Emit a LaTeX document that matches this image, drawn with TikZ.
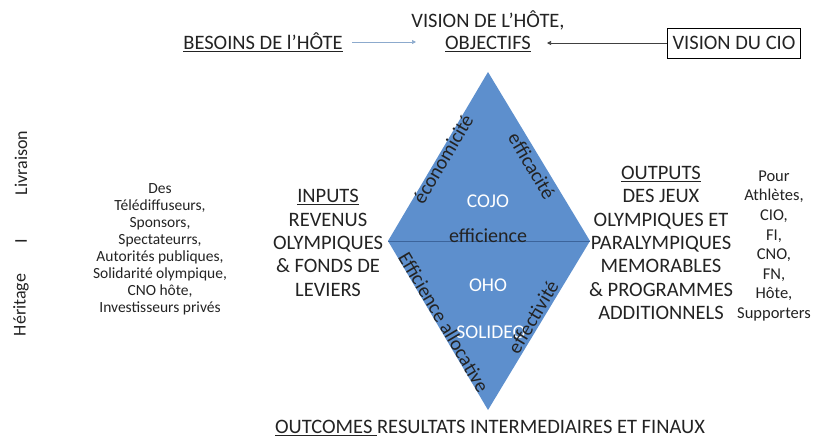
\documentclass[tikz,border=0pt]{standalone}
\usepackage{fontspec}
\setmainfont{Carlito}
\usetikzlibrary{arrows.meta}
\definecolor{txt}{RGB}{35,35,35}
\definecolor{dia}{RGB}{93,143,205}
\definecolor{dialine}{RGB}{60,100,155}
\definecolor{arrblue}{RGB}{140,170,205}
\tikzset{
  big/.style={font=\fontsize{20.5}{23.4}\selectfont, text=txt, align=center, inner sep=0pt},
  small/.style={font=\fontsize{15.5}{17}\selectfont, text=txt, align=center, inner sep=0pt},
  side/.style={font=\fontsize{18}{20}\selectfont, text=txt, inner sep=0pt, rotate=90},
  edge/.style={font=\fontsize{20}{22}\selectfont, text=txt, inner sep=0pt},
  white/.style={font=\fontsize{19.5}{22}\selectfont, text=white, inner sep=0pt},
  arr/.style={-{Triangle[length=4pt,width=4pt]}, line width=0.7pt}
}
\begin{document}
\begin{tikzpicture}[x=1pt,y=-1pt]
\useasboundingbox (0,0) rectangle (823,441);
% diamond
\coordinate (T) at (488,72);
\coordinate (L) at (388,241);
\coordinate (R) at (590,241);
\coordinate (B) at (488,410);
\fill[dia] (T) -- (R) -- (B) -- (L) -- cycle;
\draw[dialine, line width=0.8pt] (L) -- (R);

% top
\node[big] (vision) at (488,20) {VISION DE L’HÔTE,};
\node[big] (objectifs) at (488,44) {\underline{OBJECTIFS}};
\node[big] (besoins) at (263,42) {\underline{BESOINS DE l’HÔTE}};
\node[big, draw=black, line width=0.8pt, inner xsep=5pt, minimum height=30pt, minimum width=132pt] (cio) at (734,43) {VISION DU CIO};
\coordinate (a1s) at (352,42);
\coordinate (a1e) at (416,42);
\draw[arr, arrblue] (a1s) -- (a1e);
\coordinate (a2e) at (547,43);
\draw[arr, black!75] (cio.west) -- (a2e);

% diamond labels
\node[white] (cojo) at (488,201) {COJO};
\node[edge] (effic) at (488,236) {efficience};
\node[white] (oho) at (488,285) {OHO};
\node[white] (solideo) at (491,332) {SOLIDEO};
\node[edge, rotate=59.4] (econ) at (443,159) {économicité};
\node[edge, rotate=-59.4] (effica) at (532,166) {efficacité};
\node[edge, rotate=-59.4] (alloc) at (444,322) {Efficience allocative};
\node[edge, rotate=59.4] (effect) at (533,317) {effectivité};

% inputs
\node[big] (inputs) at (328,243) {\underline{INPUTS}\\REVENUS\\OLYMPIQUES\\\& FONDS DE\\LEVIERS};
% outputs
\node[big] (outputs) at (661,243) {\underline{OUTPUTS}\\DES JEUX\\OLYMPIQUES ET\\PARALYMPIQUES\\MEMORABLES\\\& PROGRAMMES\\ADDITIONNELS};
% left list
\node[small] (list) at (160,249) {Des\\Télédiffuseurs,\\Sponsors,\\Spectateurrs,\\Autorités publiques,\\Solidarité olympique,\\CNO hôte,\\Investisseurs privés};
% right list
\node[small, font=\fontsize{16.5}{19.6}\selectfont] (pour) at (774,246) {Pour\\Athlètes,\\CIO,\\FI,\\CNO,\\FN,\\Hôte,\\Supporters};

% side labels
\node[side] (livr) at (21,163) {Livraison};
\node[side] (sep) at (21,241) {I};
\node[side] (herit) at (21,305) {Héritage};

% bottom
\node[big] (outcomes) at (490,428) {\underline{OUTCOMES }RESULTATS INTERMEDIAIRES ET FINAUX};
\end{tikzpicture}
\end{document}
